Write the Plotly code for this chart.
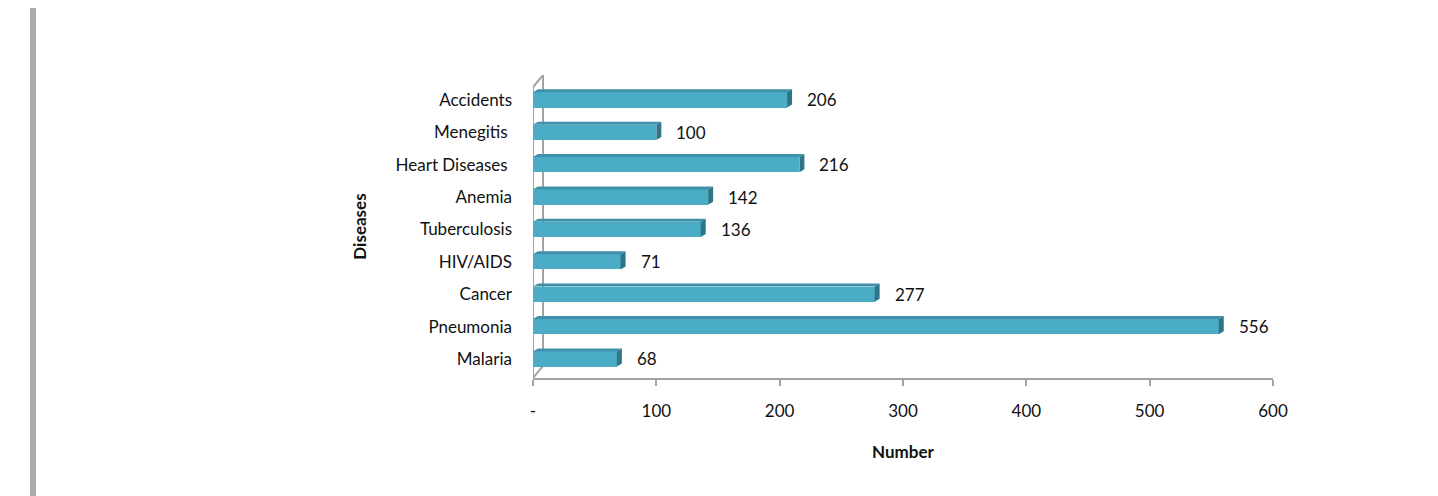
import plotly.graph_objects as go

categories = ["Malaria", "Pneumonia", "Cancer", "HIV/AIDS", "Tuberculosis",
              "Anemia", "Heart Diseases\u00a0", "Menegitis\u00a0", "Accidents"]
values = [68, 556, 277, 71, 136, 142, 216, 100, 206]
x_tickvals = [0, 100, 200, 300, 400, 500, 600]
x_ticktext = ["-", "100", "200", "300", "400", "500", "600"]

FONT = "Lato, 'Open Sans', sans-serif"
FONT_SIZE = 17
FRONT = "#4BACC6"
TOP = "#3E91A8"
CAP = "#2E7589"
WALL = "#A3A3A3"

OFF = 8  # page body margin
W_PX, H_PX = 1438, 496
L, R, T, B = 533 - OFF, 1438 - 1273 + OFF, 75 - OFF, 496 - 378 + OFF
px_per_x = (W_PX - L - R) / 600.0
y_lo, y_hi = -0.587, 8.77
px_per_y = (H_PX - T - B) / (y_hi - y_lo)

bw = 0.47
dx = 5 / px_per_x
dy = 3 / px_per_y

ypos = list(range(len(categories)))

fig = go.Figure()
fig.add_trace(go.Bar(
    x=values, y=ypos, orientation="h", width=bw,
    marker=dict(color=FRONT, line=dict(width=0)),
    hoverinfo="skip", showlegend=False,
))

shapes = []
for yi, v in zip(ypos, values):
    yt = yi + bw / 2
    yb = yi - bw / 2
    shapes.append(dict(type="path", xref="x", yref="y",
                       path=f"M 0 {yt} L {v} {yt} L {v+dx} {yt+dy} L {dx} {yt+dy} Z",
                       fillcolor=TOP, line=dict(width=0), layer="above"))
    shapes.append(dict(type="path", xref="x", yref="y",
                       path=f"M {v} {yb} L {v} {yt} L {v+dx} {yt+dy} L {v+dx} {yb+dy} Z",
                       fillcolor=CAP, line=dict(width=0), layer="above"))

wx = 10 / px_per_x
wy = 12 / px_per_y
shapes.append(dict(type="path", xref="x", yref="y",
                   path=f"M 0 {y_lo} L 0 {y_hi - wy} L {wx} {y_hi} L {wx} {y_lo + wy} Z",
                   fillcolor="rgba(0,0,0,0)", line=dict(color=WALL, width=2), layer="below"))

shapes.append(dict(type="rect", xref="paper", yref="paper",
                   xsizemode="pixel", xanchor=0, x0=30 - OFF - L, x1=36 - OFF - L,
                   y0=-1, y1=2, fillcolor="#ABABAF", line=dict(width=0)))

annotations = []
for yi, v in zip(ypos, values):
    annotations.append(dict(x=v, y=yi, xref="x", yref="y", text=str(v),
                            showarrow=False, xanchor="left", xshift=18, yshift=0,
                            font=dict(family=FONT, size=FONT_SIZE, color="#111")))

fig.update_layout(
    width=W_PX, height=H_PX,
    margin=dict(l=L, r=R, t=T, b=B),
    paper_bgcolor="white", plot_bgcolor="white",
    shapes=shapes, annotations=annotations,
    bargap=0,
    xaxis=dict(range=[0, 600], tickvals=x_tickvals, ticktext=x_ticktext,
               showgrid=False, zeroline=False, showline=True, linecolor=WALL, linewidth=2,
               ticks="outside", ticklen=6, tickcolor=WALL, tickwidth=2,
               ticklabelstandoff=11,
               tickfont=dict(family=FONT, size=FONT_SIZE, color="#111"),
               title=dict(text="<b>Number</b>", font=dict(family=FONT, size=FONT_SIZE, color="#111"),
                          standoff=26)),
    yaxis=dict(range=[y_lo, y_hi], tickvals=ypos, ticktext=categories,
               showgrid=False, zeroline=False, showline=False, ticks="",
               ticklabelstandoff=20,
               tickfont=dict(family=FONT, size=FONT_SIZE, color="#111"),
               title=dict(text="<b>Diseases</b>", font=dict(family=FONT, size=FONT_SIZE, color="#111"),
                          standoff=24)),
)

fig.write_html("out.html")
